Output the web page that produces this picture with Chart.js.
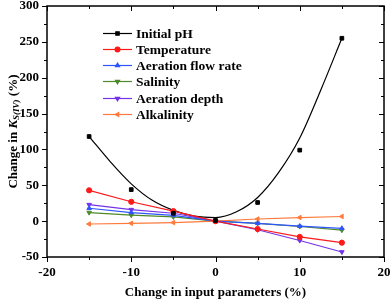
<!DOCTYPE html>
<html>
<head>
<meta charset="utf-8">
<script src="https://cdn.jsdelivr.net/npm/chart.js@4"></script>
<style>
  html, body { margin: 0; padding: 0; background: #fff; }
  #wrap { width: 392px; height: 301px; }
</style>
</head>
<body>
<div id="wrap"><canvas id="chart" width="392" height="301"></canvas></div>
<script>
'use strict';

// ── data ────────────────────────────────────────────────────────────────────
const xChange     = [-15, -10, -5, 0, 5, 10, 15];
const initialPH   = [118, 44, 11, 1, 26, 99, 255];
const temperature = [43, 27, 14, 0, -11, -22, -30];
const flowRate    = [18, 12, 8, 0, -3, -7, -10];
const salinity    = [12, 8.5, 6, 0, -3, -7.5, -12.5];
const depth       = [23, 16, 11, 0, -12, -27, -43];
const alkalinity  = [-4, -3, -2, 0, 3, 5, 6.5];

// fitted curve through initial pH points
const fitX = [-15, -12.5, -10, -7.5, -5, -2.5, 0, 2.5, 5, 7.5, 10, 12.5, 15];
const fitY = [118, 83, 52, 29, 15, 7, 5, 13, 33, 68, 116, 183, 255];

const xTicks = [-20, -10, 0, 10, 20];
const yTicks = [-50, 0, 50, 100, 150, 200, 250, 300];

const SERIES = [
  { label: 'Initial pH',         data: initialPH,   color: '#000000', marker: 'rect',     showLine: false },
  { label: 'Temperature',        data: temperature, color: '#ff1a1a', marker: 'circle' },
  { label: 'Aeration flow rate', data: flowRate,    color: '#2f55ff', marker: 'triangle' },
  { label: 'Salinity',           data: salinity,    color: '#4f8a2a', marker: 'triangle', rot: 180 },
  { label: 'Aeration depth',     data: depth,       color: '#7433e8', marker: 'triangle', rot: 180 },
  { label: 'Alkalinity',         data: alkalinity,  color: '#ff7a3c', marker: 'triangle', rot: -90 },
];

const SERIF = "'Liberation Serif', 'Times New Roman', serif";
const pts = (xs, ys) => xs.map((x, i) => ({ x, y: ys[i] }));

// ── frame: box, ticks (out on bottom/left, in on top/right), y title, legend ─
const framePlugin = {
  id: 'frame',
  afterDraw(chart) {
    const { ctx, chartArea: a, scales: { x, y } } = chart;
    ctx.save();
    ctx.strokeStyle = '#000';
    ctx.lineWidth = 1.5;
    ctx.strokeRect(a.left, a.top, a.right - a.left, a.bottom - a.top);
    ctx.lineWidth = 1;
    ctx.beginPath();
    for (let v = -20; v <= 20; v += 5) {
      const px = Math.round(x.getPixelForValue(v)) + 0.5;
      const len = v % 10 === 0 ? 5 : 3;
      ctx.moveTo(px, a.bottom); ctx.lineTo(px, a.bottom + len);
      ctx.moveTo(px, a.top);    ctx.lineTo(px, a.top + len);
    }
    for (let v = -50; v <= 300; v += 25) {
      const py = Math.round(y.getPixelForValue(v)) + 0.5;
      const len = v % 50 === 0 ? 5 : 3;
      ctx.moveTo(a.left, py);  ctx.lineTo(a.left - len, py);
      ctx.moveTo(a.right, py); ctx.lineTo(a.right - len, py);
    }
    ctx.stroke();

    // y title with italic K and subscript S(IV)
    ctx.translate(14, (a.top + a.bottom) / 2);
    ctx.rotate(-Math.PI / 2);
    ctx.fillStyle = '#000';
    ctx.textBaseline = 'middle';
    const parts = [
      { t: 'Change in ', f: `bold 13px ${SERIF}`, dy: 0 },
      { t: 'K',          f: `italic bold 13px ${SERIF}`, dy: 0 },
      { t: 'S(IV)',      f: `italic bold 9px ${SERIF}`, dy: 3 },
      { t: ' (%)',       f: `bold 13px ${SERIF}`, dy: 0 },
    ];
    let total = 0;
    parts.forEach(p => { ctx.font = p.f; p.w = ctx.measureText(p.t).width; total += p.w; });
    let cx = -total / 2;
    parts.forEach(p => { ctx.font = p.f; ctx.fillText(p.t, cx, p.dy); cx += p.w; });
    ctx.restore();

    // legend: line sample + marker + label
    ctx.save();
    const rowY = [33, 49, 65, 81, 98, 114];
    SERIES.forEach((s, i) => {
      const ly = rowY[i] + 0.5;
      ctx.strokeStyle = s.color;
      ctx.fillStyle = s.color;
      ctx.lineWidth = 1.2;
      ctx.beginPath(); ctx.moveTo(103, ly); ctx.lineTo(132, ly); ctx.stroke();
      Chart.helpers.drawPoint(ctx, {
        pointStyle: s.marker, radius: 2.4, rotation: s.rot || 0, borderWidth: 1,
      }, 117.5, ly);
      ctx.fillStyle = '#000';
      ctx.font = `bold 13.5px ${SERIF}`;
      ctx.textBaseline = 'middle';
      ctx.fillText(s.label, 136, ly + 1);
    });
    ctx.restore();
  },
};

const datasets = SERIES.map(s => ({
  label: s.label,
  data: pts(xChange, s.data),
  borderColor: s.color,
  backgroundColor: s.color,
  borderWidth: 1.2,
  pointStyle: s.marker,
  pointRotation: s.rot || 0,
  pointRadius: 2.6,
  pointBorderWidth: 1,
  showLine: s.showLine !== false,
  tension: 0,
}));

datasets.push({
  label: 'pH fit',
  data: pts(fitX, fitY),
  borderColor: '#000',
  borderWidth: 1.2,
  pointRadius: 0,
  showLine: true,
  cubicInterpolationMode: 'monotone',
});

new Chart(document.getElementById('chart').getContext('2d'), {
  type: 'scatter',
  data: { datasets },
  options: {
    responsive: false,
    animation: false,
    layout: { padding: { top: 6, right: 8, left: 0, bottom: 0 } },
    plugins: { legend: { display: false }, tooltip: { enabled: false } },
    scales: {
      x: {
        type: 'linear', min: -20, max: 20,
        afterBuildTicks: s => { s.ticks = xTicks.map(v => ({ value: v })); },
        afterFit: s => { s.height = 44; s.paddingLeft = 0; s.paddingRight = 0; },
        grid: { display: false, drawTicks: false },
        border: { display: false },
        ticks: { color: '#000', padding: 8, maxRotation: 0, font: { family: SERIF, size: 13, weight: 'bold' } },
        title: { display: true, text: 'Change in input parameters (%)', color: '#000',
                 padding: { top: 2, bottom: 1 }, font: { family: SERIF, size: 13, weight: 'bold' } },
      },
      y: {
        type: 'linear', min: -50, max: 300,
        afterBuildTicks: s => { s.ticks = yTicks.map(v => ({ value: v })); },
        afterFit: s => { s.width = 47; s.paddingTop = 0; s.paddingBottom = 0; },
        grid: { display: false, drawTicks: false },
        border: { display: false },
        ticks: { color: '#000', padding: 8, font: { family: SERIF, size: 13, weight: 'bold' } },
      },
    },
  },
  plugins: [framePlugin],
});
</script>
</body>
</html>
